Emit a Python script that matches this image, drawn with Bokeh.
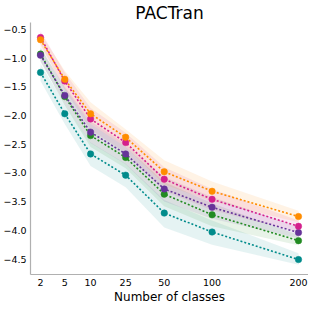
from bokeh.plotting import figure
from bokeh.models import FixedTicker, Range1d
from bokeh.embed import file_html
from bokeh.resources import INLINE

# ---- data ----
classes = ["2", "5", "10", "25", "50", "100", "200"]
# spacing of the categories along the axis, as drawn in the original
x_pos = [0, 24.7, 51, 86.7, 126, 174.7, 262.7]

orange_mean = [-0.68, -1.37, -1.97, -2.38, -2.98, -3.32, -3.76]
orange_lo = [-0.80, -1.52, -2.15, -2.55, -3.20, -3.50, -3.86]
orange_hi = [-0.57, -1.22, -1.77, -2.24, -2.78, -3.15, -3.66]

magenta_mean = [-0.64, -1.40, -2.06, -2.47, -3.11, -3.46, -3.93]
magenta_lo = [-0.76, -1.55, -2.25, -2.65, -3.32, -3.65, -4.03]
magenta_hi = [-0.53, -1.25, -1.87, -2.30, -2.90, -3.28, -3.83]

purple_mean = [-0.95, -1.65, -2.29, -2.67, -3.28, -3.60, -4.04]
purple_lo = [-1.07, -1.80, -2.48, -2.85, -3.50, -3.80, -4.14]
purple_hi = [-0.83, -1.50, -2.10, -2.50, -3.07, -3.42, -3.94]

green_mean = [-0.93, -1.67, -2.35, -2.73, -3.37, -3.73, -4.18]
green_lo = [-1.05, -1.82, -2.55, -2.92, -3.58, -3.93, -4.26]
green_hi = [-0.81, -1.52, -2.15, -2.55, -3.16, -3.53, -4.08]

teal_mean = [-1.25, -1.97, -2.67, -3.04, -3.70, -4.03, -4.51]
teal_lo = [-1.40, -2.15, -2.88, -3.25, -3.95, -4.25, -4.60]
teal_hi = [-1.10, -1.80, -2.47, -2.84, -3.47, -3.83, -4.40]

y_ticks = [-4.5, -4.0, -3.5, -3.0, -2.5, -2.0, -1.5, -1.0, -0.5]

series = [
    ("#008b8b", teal_mean, teal_lo, teal_hi),
    ("#228b22", green_mean, green_lo, green_hi),
    ("#663399", purple_mean, purple_lo, purple_hi),
    ("#d4208c", magenta_mean, magenta_lo, magenta_hi),
    ("#ff8c00", orange_mean, orange_lo, orange_hi),
]

FONT = "DejaVu Sans"

p = figure(width=308, height=306, output_backend="svg", toolbar_location=None,
           x_range=Range1d(-10.2, 272.9), y_range=Range1d(-4.77, -0.38),
           title="PACTran",
           min_border_left=0, min_border_right=0, min_border_top=0, min_border_bottom=0)
p.outline_line_color = None
p.grid.visible = False

p.title.align = "center"
p.title.text_font = FONT
p.title.text_font_size = "17px"
p.title.text_font_style = "normal"
p.title.text_color = "#000000"
p.title.standoff = 0
p.title.offset = 0

for color, mean, lo, hi in series:
    p.varea(x=x_pos, y1=lo, y2=hi, fill_color=color, fill_alpha=0.1)
for color, mean, lo, hi in series:
    p.line(x_pos, mean, line_color=color, line_width=1.6, line_dash="2 2")
    p.scatter(x_pos, mean, size=6.5, fill_color=color, line_color=color, line_width=0.5)

# axes
for ax in (p.xaxis[0], p.yaxis[0]):
    ax.axis_line_color = "#b0b0b0"
    ax.axis_line_width = 1.2
    ax.major_tick_line_color = None
    ax.minor_tick_line_color = None
    ax.major_tick_out = 0
    ax.major_tick_in = 0
    ax.major_label_text_font = FONT
    ax.major_label_text_font_size = "9.5px"
    ax.major_label_text_color = "#000000"
    ax.major_label_standoff = 4

p.xaxis.ticker = FixedTicker(ticks=x_pos)
p.xaxis.major_label_overrides = {x: c for x, c in zip(x_pos, classes)}
p.xaxis.axis_label = "Number of classes"
p.xaxis.axis_label_text_font = FONT
p.xaxis.axis_label_text_font_size = "12px"
p.xaxis.axis_label_text_font_style = "normal"
p.xaxis.axis_label_standoff = 1
p.xaxis.axis_label_text_color = "#000000"

p.yaxis.ticker = FixedTicker(ticks=y_ticks)
p.yaxis.major_label_overrides = {t: f"{t:.1f}".replace("-", "\u2212") for t in y_ticks}

open("out.html", "w").write(file_html(p, INLINE))
